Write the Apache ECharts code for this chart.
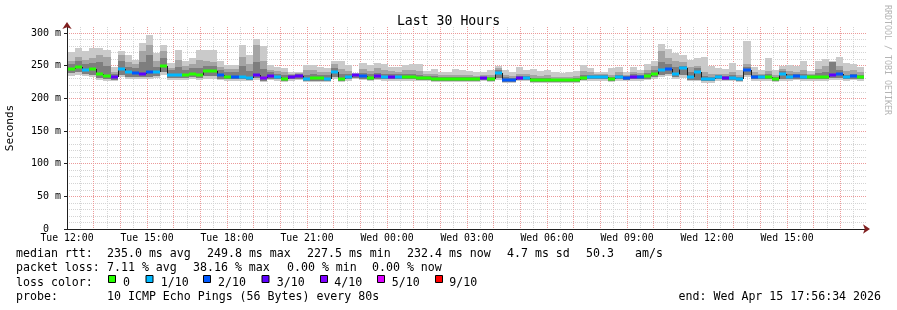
<!DOCTYPE html>
<html><head><meta charset="utf-8">
<script src="https://cdn.jsdelivr.net/npm/echarts@6/dist/echarts.min.js"></script>
<style>html,body{margin:0;padding:0;background:#fff}#c{width:897px;height:310px}</style>
</head><body><div id="c"></div>
<script>
// ---------- data ----------
const titleText = 'Last 30 Hours';
const xTickLabels = ['Tue 12:00','Tue 15:00','Tue 18:00','Tue 21:00','Wed 00:00','Wed 03:00','Wed 06:00','Wed 09:00','Wed 12:00','Wed 15:00'];
const yTickLabels = {0:'0\u00a0\u00a0',50:'50 m',100:'100 m',150:'150 m',200:'200 m',250:'250 m',300:'300 m'};
const binStartHour = 0.033;      // first 16-minute bin starts 12:02 (hours after Tue 12:00)
const binHours = 16 / 60;

const median = [245,248.5,244,245,237.5,234,232,245,240,238.5,
238,240,240,249.8,236,236,236,238,236,242,
241.5,235,233,233,233,231,236,231,234,232,
230,233,234,230,230.5,230.5,230,241,230,233,
235,234,231.5,234,232,233,233,233,232.5,231.5,
230.5,230,230,229,229,229,229,229.5,230.5,229,
239,228,228,231,231,228,228,228,228,227.5,
227.5,228,231,232,232,232,229,232,231,233,
232,234,238,243,245,238,246,232,241,229,
229,232,231,231,230,243,232,232,232,230,
238,233,233.5,233,232,233,233,236,237,232,
234,232.4];
const lossLevel = [0,0,1,0,0,0,3,1,1,2,
3,2,1,0,1,1,0,0,0,0,
0,2,0,2,1,1,3,4,3,1,
0,3,3,1,0,0,1,1,0,1,
3,2,0,3,1,3,1,0,0,0,
0,0,0,0,0,0,0,0,3,0,
1,2,2,3,1,0,0,0,0,0,
0,0,0,1,1,1,0,1,2,3,
2,0,0,1,2,1,1,1,1,1,
1,1,3,1,1,2,2,1,0,0,
1,1,2,1,0,0,0,3,2,1,
2,0];
const smokeMax = [271,277,273,277,277,274.5,247.5,273,267,259,
284.7,297,269,282,254,274.5,257.6,261.7,274.5,274.5,
274.5,256.6,250.5,250.5,282,267,291,279.6,251.5,247.5,
246,241,241,251.5,251.5,247.5,246,256.6,256.6,250.5,
239,254,250.5,254,252.5,248,247.5,251.5,252.5,252.5,
242,245,241,241,245,243,242,241,241,244,
249,244,241,248,244,245,242,244,241,239,
241,242,250.5,246.4,241,241,246,248,240,248,
244,252.5,256.6,283.7,276,269,267,259,261.7,262.8,
250,246,245,254,244,288,247.5,244,261.7,244,
249,250.5,249,256.6,242,257.6,260,257.6,264,254,
252.5,247.5];
const smokeP9 = [257,263,258,262,267,264,241,267,256,252,
272,282,257,272,247,259,250,252,258,257,
256,248,245,245,264,252,282,257,244,242,
240,238,239,243,244,241,240,252,245,242,
237.5,245,242,246,243,242,241,243,244,242,
237,238,236,235,236,235,235,234,236,235,
246,236,234,238,237,235,234,235,233,232,
232,234,242,240,237,237,236,240,236,241,
239,244,250,272,262,257,255,248,250,240,
238,238,237,240,236,252,240,238,242,236,
245,242,241,244,237,245,250,256,250,242,
243,240];
const smokeP8 = [252,257,252,254,255,250,238,257,248,246,
255,267,248,262,243,248,244,246,246,250,
249,243,240,240,250,242,256,245,240,238,
236,236,237,236,237,236,236,247,238,237,
236.5,239,237,239,237,237,237,238,238,236,
234,234,233,232,232,232,232,232,233,232,
243,232,231,234,234,231,231,231,230,230,
229.5,231,236,236,235,235,232,236,234,237,
236,239,244,255,252,248,250,240,246,234,
233,235,234,235,233,248,236,235,237,233,
242,237,237,238,235,239,240,255,243,236,
238,236];
const smokeP2 = [239,240,238,236,231,229,228,236,233,232,
232,233,234,240,231,231,231,232,231,234,
234,230,229,229,229,228,231,227,230,229,
227,229,230,227,227,227,227,233,227,229,
231,230,228,230,229,229,229,229,229,228,
227.5,227,227,226.5,226.5,226.5,226.5,227,228,226.5,
231,225,225,228,228,225.5,225.5,225.5,225,224.5,
224.5,225.5,228,229,229,229,226.5,229,228,229,
229,230,233,236,238,233,235,228,228,226,
226,229,228,228,227,236,229,229,229,227,
229,229,230,229,229,229,229,231,231,229,
230,229];
const smokeMin = [234,236,234,233,228,227,226,232,230,229,
229,230,231,236,228,228,228,229,228,230,
230,228,227,227,227,226,228,225,228,227,
225,227,228,225,225,225,225,230,225,227,
229,228,226,228,227,227,227,227,227,226,
226,225,225,225,225,225,225,225,226,225,
228,223,223,226,226,224,224,224,223.5,223,
223,224,226,227,227,227,225,227,226,227,
227,228,230,232,234,230,231,226,226,224,
224,227,226,226,225,232,227,227,227,225,
227,227,228,227,227,227,227,228,228,227,
228,227];

const lossColors = {0:'#26ff00',1:'#00b8ff',2:'#0059ff',3:'#5e00ff',4:'#7e00ff',5:'#dd00ff',9:'#ff0000'};
const lossLegend = [['0',0],['1/10',1],['2/10',2],['3/10',3],['4/10',4],['5/10',5],['9/10',9]];
const rttLabel = 'median rtt:';
const rttStats = ['235.0 ms avg','249.8 ms max','227.5 ms min','232.4 ms now','4.7 ms sd','50.3','am/s'];
const lossLabel = 'packet loss:';
const lossStats = ['7.11 % avg','38.16 % max','0.00 % min','0.00 % now'];
const colorLabel = 'loss color:';
const probeLabel = 'probe:';
const probeText = '10 ICMP Echo Pings (56 Bytes) every 80s';
const endText = 'end: Wed Apr 15 17:56:34 2026';
const sideText = 'RRDTOOL / TOBI OETIKER';

// ---------- layout ----------
const MONO = "'DejaVu Sans Mono', monospace";
const MAJOR = '#ec9a9a';
const MINOR = '#d4d4d4';
const DASH = [1,1];
const LF = 11.6;
const rowY = [254, 268.3, 282.6, 296.9];
const rttX = [107, 207, 307, 407, 507, 586, 635];
const lossX = [107, 193, 287, 372];
const boxX = [108, 145.5, 203, 261.5, 320, 377, 435];
const boxTextX = [123, 160.7, 218, 276.7, 334.3, 391.7, 449.3];
const X_MAX = 30, Y_MAX = 309.2;

const smokeData = median.map((m, k) => {
  const t0 = binStartHour + k * binHours;
  return [t0, t0 + binHours, smokeMin[k], smokeP2[k], smokeP8[k], smokeP9[k], smokeMax[k]];
});
const medData = median.map((m, k) => {
  const t0 = binStartHour + k * binHours;
  return [t0, t0 + binHours, m, lossLevel[k], k > 0 ? median[k - 1] : m];
});

function txt(x, y, s, extra) {
  return Object.assign({type:'text', x:x, y:y, silent:true,
    style:Object.assign({text:s, fontFamily:MONO, fontSize:LF, fill:'#000', align:'left', verticalAlign:'middle'}, extra || {})});
}
const graphics = [];
graphics.push(txt(16, rowY[0], rttLabel));
rttStats.forEach((s, i) => graphics.push(txt(rttX[i], rowY[0], s)));
graphics.push(txt(16, rowY[1], lossLabel));
lossStats.forEach((s, i) => graphics.push(txt(lossX[i], rowY[1], s)));
graphics.push(txt(16, rowY[2], colorLabel));
lossLegend.forEach((it, i) => {
  graphics.push({type:'rect', silent:true, shape:{x:boxX[i] + 0.5, y:275.5, width:7, height:7},
    style:{fill:lossColors[it[1]], stroke:'#000', lineWidth:1}});
  graphics.push(txt(boxTextX[i], rowY[2], it[0]));
});
graphics.push(txt(16, rowY[3], probeLabel));
graphics.push(txt(107, rowY[3], probeText));
graphics.push(txt(881, rowY[3], endText, {align:'right'}));
graphics.push({type:'text', x:887, y:60, rotation:-Math.PI/2, silent:true,
  style:{text:sideText, fontFamily:MONO, fontSize:8.3, fill:'#b4b4b4', align:'center', verticalAlign:'middle'}});

function plainAxis(extra) {
  return Object.assign({type:'value', axisLine:{show:false}, axisTick:{show:false}, axisLabel:{show:false}, splitLine:{show:false}}, extra);
}

const chart = echarts.init(document.getElementById('c'), null, {renderer:'canvas'});
chart.setOption({
  animation:false,
  backgroundColor:'#ffffff',
  title:{text:titleText, left:'center', top:10, textStyle:{fontFamily:MONO, fontSize:13.2, fontWeight:'normal', color:'#000'}},
  grid:{left:67, right:30, top:27, bottom:81, containLabel:false, outerBoundsMode:'none'},
  xAxis:[{
    type:'value', min:0, max:X_MAX, interval:1, z:2,
    axisLine:{show:true, onZero:false, lineStyle:{color:'#1f1f1f', width:1}},
    axisTick:{show:false},
    axisLabel:{margin:4, fontFamily:MONO, fontSize:9.8, color:'#000',
      formatter:function(v){ const q = v / 3; if (Math.abs(q - Math.round(q)) < 1e-6 && Math.round(q) < xTickLabels.length) return xTickLabels[Math.round(q)]; return ''; }},
    splitLine:{show:true, showMinLine:false, showMaxLine:false, lineStyle:{color:MAJOR, type:DASH, width:1}}
  },
  plainAxis({min:0, max:X_MAX, interval:0.5, z:1, position:'bottom',
    splitLine:{show:true, showMinLine:false, showMaxLine:false, lineStyle:{color:MINOR, type:DASH, width:1}}}),
  plainAxis({min:0, max:X_MAX, position:'bottom', z:3,
    axisLine:{show:true, onZero:false, lineStyle:{color:'#801f1f', width:0}, symbol:['none','arrow'], symbolSize:[7,7], symbolOffset:[0,3]}})
  ],
  yAxis:[{
    type:'value', min:0, max:Y_MAX, interval:50, z:2,
    name:'Seconds', nameLocation:'middle', nameGap:51, nameRotate:90,
    nameTextStyle:{fontFamily:MONO, fontSize:11, color:'#000'},
    axisLine:{show:true, onZero:false, lineStyle:{color:'#1f1f1f', width:1}},
    axisTick:{show:true, length:3, lineStyle:{color:'#1f1f1f'}},
    axisLabel:{margin:6, fontFamily:MONO, fontSize:10, color:'#000', showMaxLabel:false,
      formatter:function(v){ return yTickLabels[v] !== undefined ? yTickLabels[v] : ''; }},
    splitLine:{show:true, showMinLine:false, showMaxLine:false, lineStyle:{color:MAJOR, type:DASH, width:1}}
  },
  plainAxis({min:0, max:Y_MAX, interval:10, z:1, position:'left',
    splitLine:{show:true, showMinLine:false, showMaxLine:false, lineStyle:{color:MINOR, type:DASH, width:1}}}),
  plainAxis({min:0, max:Y_MAX, position:'left', z:3,
    axisLine:{show:true, onZero:false, lineStyle:{color:'#801f1f', width:0}, symbol:['none','arrow'], symbolSize:[7,7], symbolOffset:[0,5]}})
  ],
  series:[{
    type:'custom', name:'smoke', data:smokeData, encode:{x:[0,1], y:[2,3,4,5,6]}, z:5,
    renderItem:function(params, api){
      const t0 = api.value(0), t1 = api.value(1);
      const layers = [[api.value(2), api.value(6), '#cacaca'], [api.value(3), api.value(5), '#a4a4a4'], [api.value(3), api.value(4), '#7e7e7e']];
      return {type:'group', children:layers.map(function(l){
        const a = api.coord([t0, l[1]]), b = api.coord([t1, l[0]]);
        const x0 = Math.round(a[0]), x1 = Math.round(b[0]), y0 = Math.round(a[1]), y1 = Math.round(b[1]);
        return {type:'rect', shape:{x:x0, y:y0, width:x1 - x0, height:y1 - y0}, style:{fill:l[2]}};
      })};
    }
  },{
    type:'custom', name:'median', data:medData, encode:{x:[0,1], y:[2,4]}, z:6,
    renderItem:function(params, api){
      const t0 = api.value(0), t1 = api.value(1), m = api.value(2), lv = api.value(3), pm = api.value(4);
      const a = api.coord([t0, m]), b = api.coord([t1, m]), p = api.coord([t0, pm]);
      const x0 = Math.round(a[0]), x1 = Math.round(b[0]);
      const yc = Math.round(a[1]), yp = Math.round(p[1]);
      return {type:'group', children:[
        {type:'line', shape:{x1:x0 + 0.5, y1:yp, x2:x0 + 0.5, y2:yc}, style:{stroke:'#202020', lineWidth:1}},
        {type:'rect', shape:{x:x0, y:yc - 1.5, width:x1 - x0, height:3}, style:{fill:lossColors[lv]}}
      ]};
    }
  }],
  graphic:graphics
});
</script></body></html>
